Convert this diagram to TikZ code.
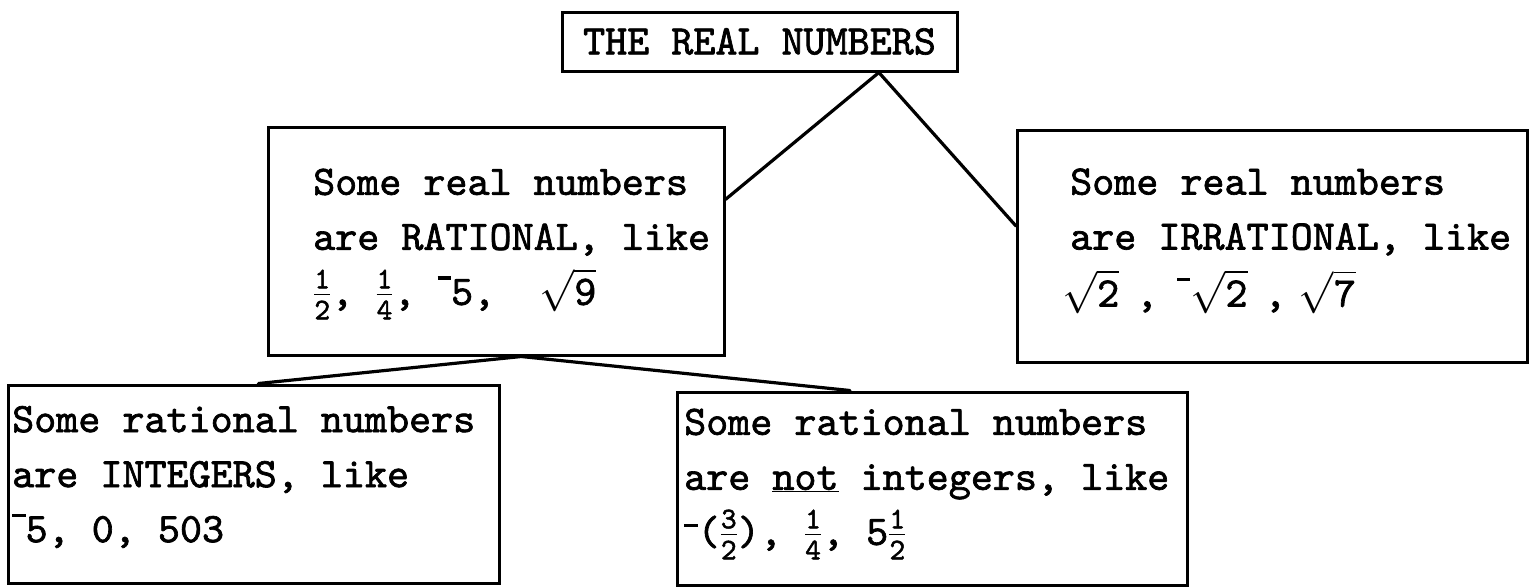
\RequirePackage{fix-cm}
\documentclass[tikz,border=0pt]{standalone}
\usepackage{fontspec}
\usetikzlibrary{calc}
\newfontfamily\twfont{lmmono10-regular.otf}[FakeBold=1.6]
\newcommand\negbar{\rule[0.6em]{0.32em}{0.08em}}
\newcommand\negmid{\rule[0.42em]{0.32em}{0.08em}}
\newcommand\bigtt{\fontsize{42}{55}\selectfont\twfont}
\newcommand\smdig[1]{\mbox{\fontsize{30}{30}\selectfont\twfont #1}}
\newcommand\fr[2]{$\frac{\smdig{#1}}{\smdig{#2}}$}
\newcommand\sq[1]{$\sqrt{\mbox{\twfont #1}}$}
\begin{document}
\setlength{\lineskiplimit}{-100pt}
\begin{tikzpicture}[x=1pt,y=-1pt,
  box/.style={draw, line width=3pt, inner sep=0pt},
  txt/.style={font=\bigtt, inner sep=0pt, align=left, anchor=west},
  link/.style={line width=3.2pt, line cap=round}]
\useasboundingbox (0,0) rectangle (1534,587);
% boxes
\node[box, minimum width=395pt, minimum height=59pt, font=\bigtt] (top) at (759.5,41.5) {THE REAL NUMBERS};
\node[box, minimum width=456pt, minimum height=228pt] (rat) at (496,241) {};
\node[box, minimum width=510pt, minimum height=232pt] (irr) at (1272.5,246) {};
\node[box, minimum width=491pt, minimum height=198pt] (intb) at (253.5,484) {};
\node[box, minimum width=510pt, minimum height=193pt] (nonint) at (932,488.5) {};
% texts
\node[txt] (rattext) at (313,244) {Some real numbers\\are RATIONAL, like\\\fr12, \fr14, \negbar5,\ \ \sq9};
\node[txt] (irrtext) at (1070,241) {Some real numbers\\are IRRATIONAL, like\\[2pt]\hspace*{-8pt}\sq2\hspace{0.4em},\hspace{0.45em}\negbar\sq2\hspace{0.4em},\hspace{0.3em}\sq7};
\node[txt] (inttext) at (12,477) {Some rational numbers\\are INTEGERS, like\\\negbar5, 0, 503};
\node[txt] (nonttext) at (684,484) {Some rational numbers\\are \underline{not} integers, like\\\negmid(\fr32), \fr14, 5\fr12};
% connectors
\coordinate (topapex) at ($(top.south west)!0.80!(top.south east)$);
\coordinate (ratapex) at ($(rat.south west)!0.555!(rat.south east)$);
\draw[link] (topapex) -- ($(rat.north east)!0.32!(rat.south east)$);
\draw[link] (topapex) -- ($(irr.north west)!0.415!(irr.south west)$);
\draw[link] (ratapex) -- ($(intb.north west)!0.51!(intb.north east)$);
\draw[link] (ratapex) -- ($(nonint.north west)!0.34!(nonint.north east)$);
\end{tikzpicture}
\end{document}
